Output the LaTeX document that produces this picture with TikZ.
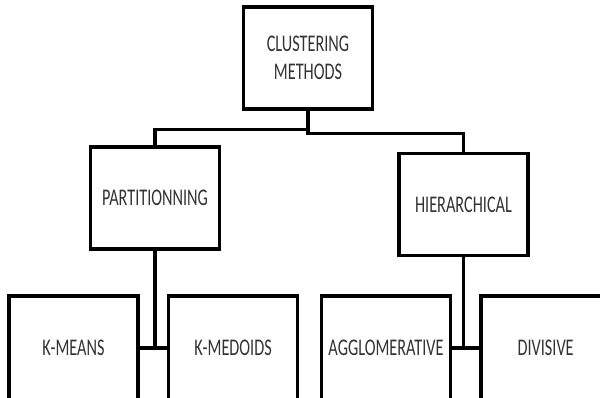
\documentclass[tikz,border=0pt]{standalone}
\usepackage{fontspec}
\newfontfamily\boxfont[FakeStretch=0.68]{Carlito}
\usetikzlibrary{positioning}

\begin{document}
\begin{tikzpicture}[x=0.025cm, y=-0.025cm, node distance=0.68cm,
  box/.style={draw, line width=2.4pt, minimum width=3.225cm, minimum height=2.55cm,
              align=center, text=black!80, font=\boxfont\fontsize{17}{20}\selectfont},
  leaf/.style={box, minimum height=2.6cm},
  link/.style={line width=2.2pt}]

  \clip (0,0) rectangle (600,397);

  \node[box] (clu) at (308,58)     {CLUSTERING\\METHODS};
  \node[box] (part) at (155,198)   {PARTITIONNING};
  \node[box] (hier) at (463.5,204.5) {HIERARCHICAL};

  \node[leaf] (kmeans) at (73.5,348)        {K-MEANS};
  \node[leaf, right=of kmeans] (kmedoids)   {K-MEDOIDS};
  \node[leaf] (agglo) at (386,348)          {AGGLOMERATIVE};
  \node[leaf, right=of agglo] (divisive)    {DIVISIVE};

  \draw[link] (clu.south) -- ++(0,19) -| (part.north);
  \draw[link] (clu.south) -- ++(0,23) -| (hier.north);
  \draw[link] (part.south) |- (kmeans.east);
  \draw[link] (part.south) |- (kmedoids.west);
  \draw[link] (hier.south) |- (agglo.east);
  \draw[link] (hier.south) |- (divisive.west);
\end{tikzpicture}
\end{document}
